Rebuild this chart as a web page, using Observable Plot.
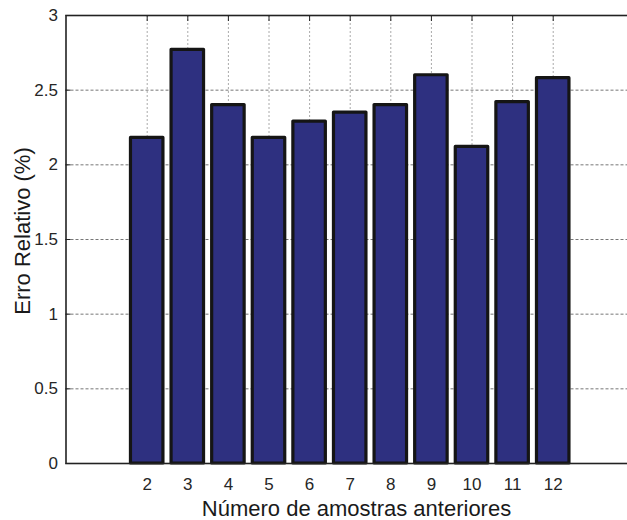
<!DOCTYPE html>
<html><head><meta charset="utf-8">
<script src="https://cdn.jsdelivr.net/npm/d3@7"></script>
<script src="https://cdn.jsdelivr.net/npm/@observablehq/plot@0.6"></script>
<style>html,body{margin:0;padding:0;background:#fff;overflow:hidden;} svg{overflow:hidden !important;}</style>
</head><body><div id="chart"></div>
<script>
const samples = [2, 3, 4, 5, 6, 7, 8, 9, 10, 11, 12];
const relErr = [2.18, 2.77, 2.40, 2.18, 2.29, 2.35, 2.40, 2.60, 2.12, 2.42, 2.58];
const yTicks = [0, 0.5, 1, 1.5, 2, 2.5, 3];
const yTickLabels = ["0", "0.5", "1", "1.5", "2", "2.5", "3"];
const xLabel = "Número de amostras anteriores";
const yLabel = "Erro Relativo (%)";
const barWidth = 0.8;
const data = samples.map((n, i) => ({n, v: relErr[i]}));

const chart = Plot.plot({
  width: 627, height: 520,
  marginLeft: 65.5, marginRight: -19.5, marginTop: 15, marginBottom: 57,
  style: {fontFamily: "'Liberation Sans', Arial, sans-serif", fontSize: "17px", background: "#fff", color: "#262626", overflow: "hidden"},
  x: {domain: [0, 14.31], axis: null},
  y: {domain: [0, 3], axis: null},
  marks: [
    Plot.ruleY(yTicks.slice(1, -1), {stroke: "#777", strokeDasharray: "3,2", strokeWidth: 1}),
    Plot.ruleX(samples, {stroke: "#aaa", strokeDasharray: "2,2", strokeWidth: 1}),
    Plot.rect(data, {x1: d => d.n - barWidth / 2, x2: d => d.n + barWidth / 2, y1: d => 0, y2: "v",
      fill: "#2e3080", stroke: "#151515", strokeWidth: 3.2, strokeLinejoin: "round"}),
    Plot.frame({stroke: "#222", strokeWidth: 1.6}),
    Plot.axisY({ticks: yTicks, tickFormat: (d, i) => yTickLabels[i], tickSize: 0, tickPadding: 8, label: null}),
    Plot.axisY({ticks: yTicks, tickSize: 5, dx: 5, fill: "none", stroke: "#222", label: null}),
    Plot.axisX({anchor: "top", ticks: samples, tickSize: 5, dy: 5, fill: "none", stroke: "#222", label: null}),
    Plot.axisX({anchor: "bottom", ticks: samples, tickSize: 0, tickPadding: 14, label: null}),
    Plot.text([xLabel], {frameAnchor: "bottom", dy: 52, lineAnchor: "bottom", fontSize: 22, fill: "#1a1a1a"}),
    Plot.text([yLabel], {frameAnchor: "left", textAnchor: "middle", rotate: -90, dx: -43, dy: -8.5, fontSize: 22, fill: "#1a1a1a"})
  ]
});
document.getElementById("chart").appendChild(chart);
</script>
</body></html>
